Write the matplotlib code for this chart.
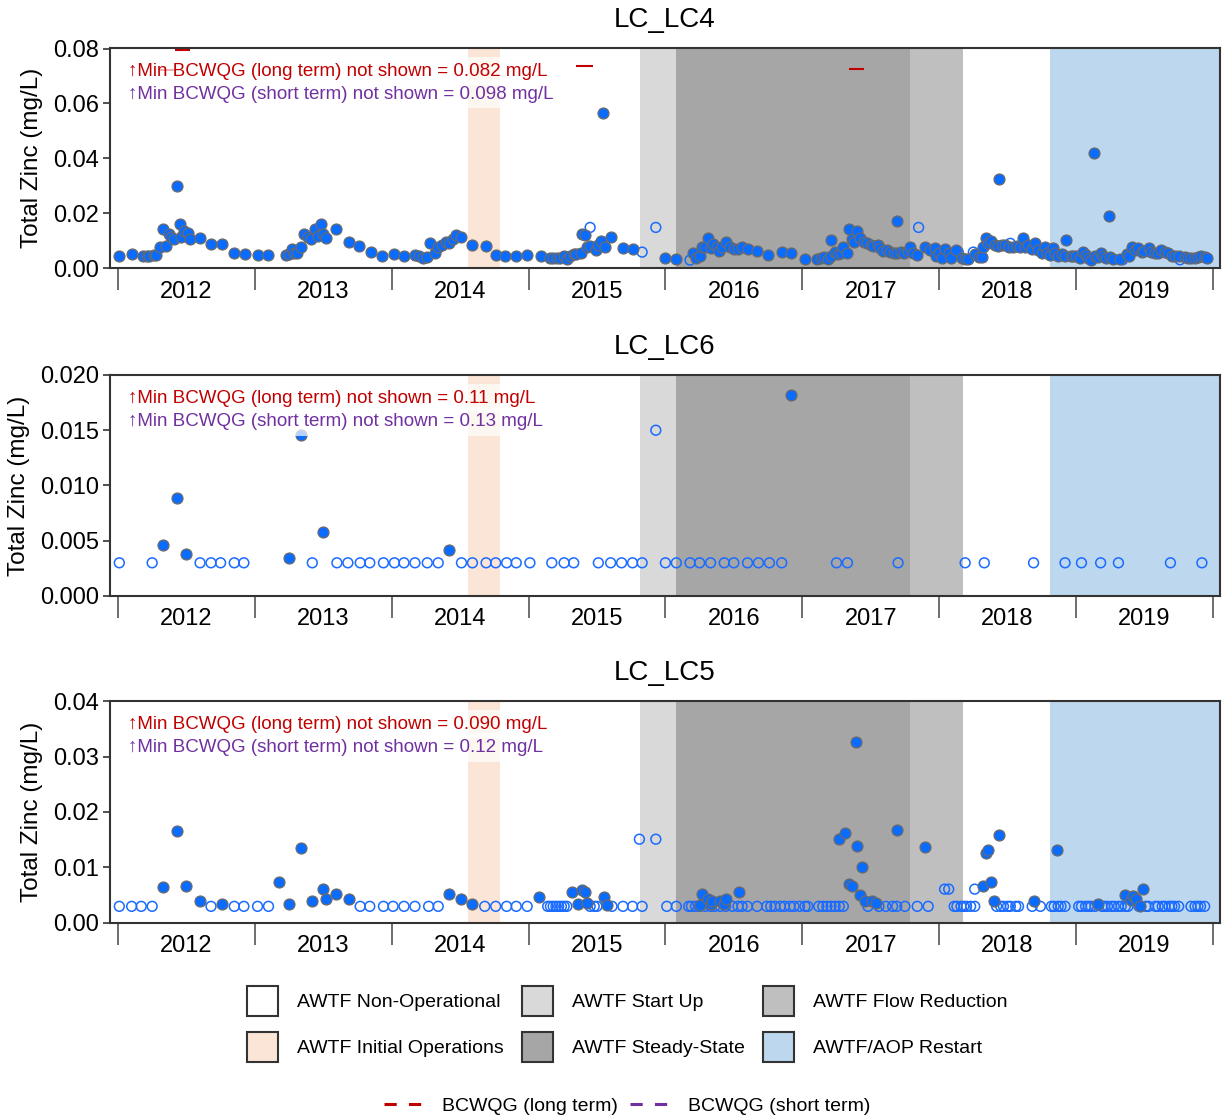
import matplotlib
matplotlib.use('Agg')
import matplotlib.pyplot as plt
from matplotlib.patches import Patch
from matplotlib.lines import Line2D

plt.rcParams['font.family'] = ['Liberation Sans', 'DejaVu Sans']

# ---- data (decimal years, mg/L) ----
lc4_det_x = [2012.01, 2012.10, 2012.18, 2012.21, 2012.23, 2012.26, 2012.28, 2012.31, 2012.33, 2012.35,
             2012.37, 2012.39, 2012.41, 2012.43, 2012.45, 2012.46, 2012.48, 2012.51, 2012.53, 2012.60,
             2012.68, 2012.76, 2012.85, 2012.93, 2013.02, 2013.10, 2013.23, 2013.25, 2013.27, 2013.29,
             2013.31, 2013.34, 2013.36, 2013.39, 2013.41, 2013.44, 2013.46, 2013.48, 2013.50, 2013.52,
             2013.59, 2013.69, 2013.76, 2013.85, 2013.93, 2014.02, 2014.09, 2014.17, 2014.20, 2014.23,
             2014.26, 2014.28, 2014.32, 2014.34, 2014.37, 2014.40, 2014.42, 2014.45, 2014.47, 2014.51,
             2014.59, 2014.69, 2014.76, 2014.83, 2014.91, 2014.99, 2015.09, 2015.16, 2015.18, 2015.21,
             2015.23, 2015.26, 2015.28, 2015.30, 2015.33, 2015.35, 2015.38, 2015.39, 2015.41, 2015.43,
             2015.45, 2015.49, 2015.51, 2015.53, 2015.545, 2015.56, 2015.60, 2015.69, 2015.76,
             2016.00, 2016.08, 2016.20, 2016.22, 2016.25, 2016.27, 2016.29, 2016.31, 2016.33, 2016.35,
             2016.38, 2016.39, 2016.41, 2016.44, 2016.47, 2016.50, 2016.53, 2016.56, 2016.60, 2016.67,
             2016.75, 2016.85, 2016.92, 2017.02, 2017.11, 2017.14, 2017.16, 2017.19, 2017.21, 2017.21,
             2017.24, 2017.26, 2017.28, 2017.30, 2017.33, 2017.34, 2017.36, 2017.38, 2017.40, 2017.42,
             2017.45, 2017.47, 2017.50, 2017.52, 2017.55, 2017.57, 2017.59, 2017.62, 2017.64, 2017.67,
             2017.69, 2017.69, 2017.72, 2017.74, 2017.77, 2017.79, 2017.81, 2017.84, 2017.90, 2017.93,
             2017.97, 2017.98, 2018.00, 2018.02, 2018.04, 2018.07, 2018.09, 2018.12, 2018.17, 2018.19,
             2018.21, 2018.26, 2018.29, 2018.31, 2018.32, 2018.34, 2018.36, 2018.38, 2018.41, 2018.43,
             2018.44, 2018.46, 2018.48, 2018.51, 2018.54, 2018.57, 2018.59, 2018.61, 2018.63, 2018.65,
             2018.68, 2018.70, 2018.72, 2018.75, 2018.77, 2018.79, 2018.81, 2018.83, 2018.85, 2018.87,
             2018.90, 2018.92, 2018.93, 2018.96, 2018.98, 2019.00, 2019.03, 2019.05, 2019.07, 2019.09,
             2019.11, 2019.13, 2019.14, 2019.16, 2019.18, 2019.20, 2019.22, 2019.24, 2019.25, 2019.27,
             2019.32, 2019.37, 2019.39, 2019.41, 2019.43, 2019.45, 2019.48, 2019.50, 2019.53, 2019.55,
             2019.58, 2019.60, 2019.62, 2019.65, 2019.67, 2019.70, 2019.72, 2019.75, 2019.80, 2019.82,
             2019.84, 2019.87, 2019.89, 2019.91, 2019.94, 2019.96]
lc4_det_y = [0.0044, 0.0050, 0.0042, 0.0043, 0.0044, 0.0046, 0.0047, 0.0075, 0.0142, 0.0081,
             0.0124, 0.0112, 0.0104, 0.0298, 0.0160, 0.0112, 0.0136, 0.0126, 0.0106, 0.0108,
             0.0087, 0.0087, 0.0053, 0.0051, 0.0047, 0.0047, 0.0046, 0.0050, 0.0068, 0.0056,
             0.0053, 0.0078, 0.0124, 0.0112, 0.0104, 0.0142, 0.0115, 0.0162, 0.0124, 0.0108,
             0.0144, 0.0096, 0.0081, 0.0058, 0.0042, 0.0051, 0.0042, 0.0046, 0.0044, 0.0037,
             0.0039, 0.0090, 0.0056, 0.0078, 0.0083, 0.0096, 0.0090, 0.0104, 0.0120, 0.0112,
             0.0085, 0.0081, 0.0046, 0.0042, 0.0044, 0.0047, 0.0042, 0.0035, 0.0035, 0.0035,
             0.0035, 0.0044, 0.0032, 0.0044, 0.0050, 0.0050, 0.0056, 0.0124, 0.0120, 0.0078,
             0.0080, 0.0066, 0.0084, 0.0099, 0.0564, 0.0078, 0.0112, 0.0074, 0.0068,
             0.0035, 0.0034, 0.0056, 0.0035, 0.0044, 0.0078, 0.0078, 0.0108, 0.0072, 0.0087,
             0.0078, 0.0063, 0.0078, 0.0096, 0.0076, 0.0068, 0.0068, 0.0078, 0.0068, 0.0063,
             0.0047, 0.0058, 0.0056, 0.0034, 0.0033, 0.0035, 0.0040, 0.0033, 0.0044, 0.0102,
             0.0060, 0.0051, 0.0053, 0.0078, 0.0056, 0.0142, 0.0104, 0.0096, 0.0135, 0.0110,
             0.0096, 0.0090, 0.0085, 0.0080, 0.0085, 0.0072, 0.0063, 0.0066, 0.0060, 0.0056,
             0.0056, 0.0171, 0.0060, 0.0053, 0.0063, 0.0078, 0.0053, 0.0047, 0.0078, 0.0066,
             0.0072, 0.0044, 0.0053, 0.0035, 0.0069, 0.0053, 0.0035, 0.0066, 0.0035, 0.0033,
             0.0033, 0.0051, 0.0040, 0.0040, 0.0076, 0.0110, 0.0090, 0.0100, 0.0085, 0.0081,
             0.0323, 0.0085, 0.0085, 0.0078, 0.0078, 0.0081, 0.0076, 0.0110, 0.0078, 0.0085,
             0.0069, 0.0093, 0.0066, 0.0053, 0.0078, 0.0053, 0.0047, 0.0072, 0.0053, 0.0044,
             0.0051, 0.0042, 0.0102, 0.0044, 0.0042, 0.0044, 0.0035, 0.0060, 0.0047, 0.0035,
             0.0030, 0.0419, 0.0042, 0.0040, 0.0056, 0.0042, 0.0035, 0.0189, 0.0040, 0.0032,
             0.0032, 0.0051, 0.0044, 0.0078, 0.0066, 0.0072, 0.0060, 0.0063, 0.0072, 0.0060,
             0.0056, 0.0053, 0.0066, 0.0060, 0.0053, 0.0044, 0.0044, 0.0042, 0.0040, 0.0035,
             0.0035, 0.0035, 0.0040, 0.0044, 0.0040, 0.0035]
lc4_nd_x = [2015.45, 2015.83, 2015.93, 2016.18, 2017.85, 2018.14, 2018.25, 2018.52, 2019.34, 2019.76]
lc4_nd_y = [0.0148, 0.0058, 0.0148, 0.0029, 0.0148, 0.0058, 0.0058, 0.0090, 0.0030, 0.0030]

lc6_det_x = [2012.33, 2012.43, 2012.50, 2013.25, 2013.34, 2013.50, 2014.42, 2016.92]
lc6_det_y = [0.0046, 0.0089, 0.0038, 0.0034, 0.0146, 0.0058, 0.0042, 0.0182]
lc6_nd_x = [2012.01, 2012.25, 2012.60, 2012.68, 2012.75, 2012.85, 2012.92, 2013.42, 2013.60, 2013.68,
            2013.77, 2013.84, 2013.94, 2014.02, 2014.09, 2014.17, 2014.26, 2014.34, 2014.51, 2014.59,
            2014.69, 2014.76, 2014.84, 2014.91, 2015.01, 2015.17, 2015.26, 2015.33, 2015.51, 2015.60,
            2015.68, 2015.76, 2015.83, 2015.93, 2016.00, 2016.08, 2016.18, 2016.25, 2016.33, 2016.43,
            2016.50, 2016.60, 2016.68, 2016.76, 2016.85, 2017.25, 2017.33, 2017.70, 2018.19, 2018.33,
            2018.69, 2018.92, 2019.04, 2019.18, 2019.31, 2019.69, 2019.92]
lc6_nd_y = [0.003] * 33 + [0.015] + [0.003] * 23

lc5_det_x = [2012.33, 2012.43, 2012.50, 2012.60, 2012.76, 2013.18, 2013.25, 2013.34, 2013.42, 2013.50,
             2013.52, 2013.59, 2013.69, 2014.42, 2014.51, 2014.59, 2015.08, 2015.32, 2015.36, 2015.39,
             2015.41, 2015.43, 2015.55, 2015.57, 2016.25, 2016.27, 2016.31, 2016.33, 2016.34, 2016.40,
             2016.43, 2016.44, 2016.54, 2017.27, 2017.31, 2017.34, 2017.36, 2017.39, 2017.40, 2017.42,
             2017.44, 2017.46, 2017.51, 2017.54, 2017.69, 2017.90, 2018.32, 2018.34, 2018.36, 2018.38,
             2018.40, 2018.44, 2018.69, 2018.86, 2019.16, 2019.36, 2019.40, 2019.42, 2019.44, 2019.47,
             2019.49]
lc5_det_y = [0.0064, 0.0166, 0.0067, 0.0040, 0.0034, 0.0073, 0.0034, 0.0136, 0.0040, 0.0061,
             0.0044, 0.0053, 0.0043, 0.0052, 0.0043, 0.0034, 0.0047, 0.0056, 0.0034, 0.0059,
             0.0056, 0.0036, 0.0046, 0.0032, 0.0032, 0.0053, 0.0043, 0.0034, 0.0039, 0.0039,
             0.0034, 0.0044, 0.0055, 0.0151, 0.0162, 0.0070, 0.0067, 0.0327, 0.0139, 0.0050,
             0.0101, 0.0039, 0.0039, 0.0036, 0.0168, 0.0137, 0.0067, 0.0127, 0.0132, 0.0074,
             0.0040, 0.0158, 0.0040, 0.0132, 0.0034, 0.0050, 0.0042, 0.0048, 0.0043, 0.0031,
             0.0061]
lc5_nd_x = [2012.01, 2012.10, 2012.17, 2012.25, 2012.68, 2012.85, 2012.92, 2013.02, 2013.10, 2013.77,
            2013.84, 2013.94, 2014.01, 2014.09, 2014.17, 2014.27, 2014.34, 2014.68, 2014.76, 2014.84,
            2014.91, 2014.99, 2015.14, 2015.16, 2015.18, 2015.20, 2015.22, 2015.24, 2015.26, 2015.28,
            2015.45, 2015.48, 2015.50, 2015.61, 2015.69, 2015.76, 2015.83, 2016.01, 2016.08, 2016.17,
            2016.19, 2016.22, 2016.25, 2016.29, 2016.33, 2016.36, 2016.40, 2016.44, 2016.49, 2016.53,
            2016.56, 2016.60, 2016.67, 2016.74, 2016.77, 2016.80, 2016.84, 2016.87, 2016.91, 2016.94,
            2016.98, 2017.02, 2017.04, 2017.12, 2017.15, 2017.18, 2017.21, 2017.24, 2017.27, 2017.30,
            2017.48, 2017.56, 2017.61, 2017.66, 2017.69, 2017.75, 2017.84, 2017.92, 2018.11, 2018.13,
            2018.16, 2018.18, 2018.20, 2018.23, 2018.26, 2018.42, 2018.45, 2018.47, 2018.50, 2018.52,
            2018.56, 2018.58, 2018.68, 2018.74, 2018.82, 2018.84, 2018.87, 2018.89, 2018.92, 2019.02,
            2019.04, 2019.07, 2019.09, 2019.11, 2019.14, 2019.19, 2019.21, 2019.23, 2019.26, 2019.28,
            2019.31, 2019.33, 2019.36, 2019.38, 2019.46, 2019.51, 2019.53, 2019.58, 2019.60, 2019.63,
            2019.65, 2019.68, 2019.70, 2019.72, 2019.75, 2019.84, 2019.87, 2019.89, 2019.91, 2019.94,
            2015.81, 2015.93, 2018.04, 2018.07, 2018.26]
lc5_nd_y = [0.003] * 130 + [0.0151, 0.0151, 0.0061, 0.0061, 0.0061]

# long-term guideline segments (LC_LC4 only, most off-scale)
lc4_gl_start = [2012.42, 2012.31, 2015.35, 2017.34]
lc4_gl_end = [2012.53, 2012.42, 2015.47, 2017.45]
lc4_gl_val = [0.0795, 0.0721, 0.0735, 0.0727]

sites = ['LC_LC4', 'LC_LC6', 'LC_LC5']
ylims = [0.0802, 0.020, 0.040]
yticks = [[0, 0.02, 0.04, 0.06, 0.08], [0, 0.005, 0.01, 0.015, 0.02], [0, 0.01, 0.02, 0.03, 0.04]]
yfmt = ['{:.2f}', '{:.3f}', '{:.2f}']
lt_min = ['0.082', '0.11', '0.090']
st_min = ['0.098', '0.13', '0.12']

phase_names = ['AWTF Non-Operational', 'AWTF Initial Operations', 'AWTF Start Up',
               'AWTF Steady-State', 'AWTF Flow Reduction', 'AWTF/AOP Restart']
phase_colors = ['#ffffff', '#fbe5d6', '#d9d9d9', '#a6a6a6', '#bfbfbf', '#bdd7ee']
phase_start = [None, 2014.56, 2015.815, 2016.075, 2017.785, 2018.81]
phase_end = [None, 2014.79, 2016.075, 2017.785, 2018.175, 2020.2]

years = list(range(2012, 2020))

data = [(lc4_det_x, lc4_det_y, lc4_nd_x, lc4_nd_y),
        (lc6_det_x, lc6_det_y, lc6_nd_x, lc6_nd_y),
        (lc5_det_x, lc5_det_y, lc5_nd_x, lc5_nd_y)]

fig = plt.figure(figsize=(12.25, 11.2), dpi=100)
bottoms = [0.7607, 0.4679, 0.1759]
heights = [0.1964, 0.1973, 0.1982]

for i in range(3):
    ax = fig.add_axes([0.0898, bottoms[i], 0.9061, heights[i]])
    for j in range(1, 6):
        ax.axvspan(phase_start[j], phase_end[j], color=phase_colors[j], lw=0, zorder=0)
    dx, dy, nx, ny = data[i]
    ax.scatter(nx, ny, s=50, facecolors='none', edgecolors='#1a6bff', linewidths=1.1, zorder=3)
    ax.scatter(dx, dy, s=62, facecolors='#0a6cff', edgecolors='#6a6a6a', linewidths=0.9, zorder=4)
    if i == 0:
        ax.hlines(lc4_gl_val, lc4_gl_start, lc4_gl_end, colors='#c00000', lw=1.5, zorder=2)
    ax.text(0.016, 0.895, '\u2191Min BCWQG (long term) not shown = ' + lt_min[i] + ' mg/L',
            transform=ax.transAxes, color='#c00000', fontsize=13.5, va='center', ha='left',
            bbox=dict(boxstyle='square,pad=0.3', fc='white', ec='none', alpha=0.7), zorder=6)
    ax.text(0.016, 0.79, '\u2191Min BCWQG (short term) not shown = ' + st_min[i] + ' mg/L',
            transform=ax.transAxes, color='#7030a0', fontsize=13.5, va='center', ha='left',
            bbox=dict(boxstyle='square,pad=0.3', fc='white', ec='none', alpha=0.7), zorder=7)
    ax.set_xlim(2011.942, 2020.052)
    ax.set_ylim(0, ylims[i])
    ax.set_yticks(yticks[i])
    ax.set_yticklabels([yfmt[i].format(v) for v in yticks[i]])
    ax.set_xticks(list(range(2012, 2021)))
    ax.set_xticklabels([''] * 9)
    ax.set_xticks([y + 0.5 for y in years], minor=True)
    ax.set_xticklabels([str(y) for y in years], minor=True)
    ax.tick_params(axis='x', which='major', length=16, width=1.2, color='#555555', direction='out')
    ax.tick_params(axis='x', which='minor', length=0, pad=9, labelsize=17)
    ax.tick_params(axis='y', length=5, width=1.2, color='#333333', labelsize=17, pad=3)
    for sp in ax.spines.values():
        sp.set_color('#333333')
        sp.set_linewidth(1.5)
    ax.set_ylabel('Total Zinc (mg/L)', fontsize=17.5, labelpad=7)
    ax.set_title(sites[i], fontsize=20, pad=15)

handles = [Patch(facecolor=c, edgecolor='#333333', linewidth=1.5) for c in phase_colors]
fig.legend(handles, phase_names, loc='center', bbox_to_anchor=(0.512, 0.0857), ncol=3,
           frameon=False, fontsize=14, handlelength=1.6, handleheight=2.0,
           handletextpad=1.0, columnspacing=0.9, labelspacing=0.8)

line_handles = [Line2D([0], [0], color='#c00000', lw=2.2, ls=(0, (4, 4))),
                Line2D([0], [0], color='#7030a0', lw=2.2, ls=(0, (4, 4)))]
fig.legend(line_handles, ['BCWQG (long term)', 'BCWQG (short term)'], loc='center',
           bbox_to_anchor=(0.512, 0.0125), ncol=2, frameon=False, fontsize=14,
           handlelength=2.0, handletextpad=1.0, columnspacing=0.6)

fig.savefig('out.png', dpi=100)
